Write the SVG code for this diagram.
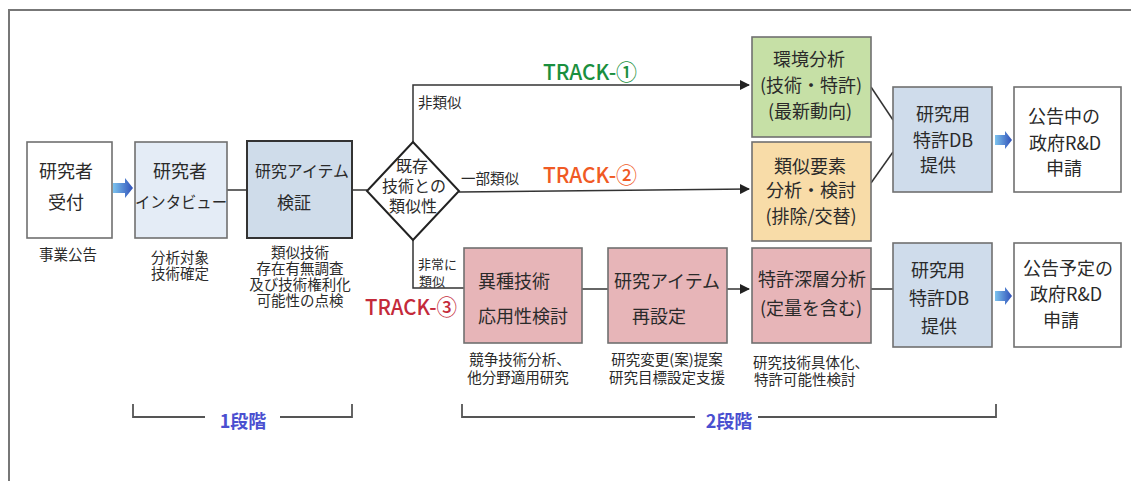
<svg xmlns="http://www.w3.org/2000/svg" width="1131" height="481" viewBox="0 0 1131 481">
<defs>
<style>
text{font-family:"Noto Sans CJK JP","Noto Sans",sans-serif;fill:#2a2a2a;dominant-baseline:central}
.b18{font-size:18px}
.b17{font-size:17px}
.b16{font-size:16px}
.l15{font-size:14.5px}
.l13{font-size:13px}
.c{text-anchor:middle}
.s{text-anchor:start}
.box{stroke:#707070;stroke-width:1.6}
.conn{stroke:#333;stroke-width:1.5;fill:none}
.track{font-size:22px;font-weight:500}
.stage{font-size:18px;font-weight:bold;fill:#4a4fd0}
.brk{stroke:#555;stroke-width:1.8;fill:none}
</style>
<linearGradient id="bg" x1="0" y1="0" x2="1" y2="0">
<stop offset="0" stop-color="#7cc3ee"/>
<stop offset="1" stop-color="#2f4fb8"/>
</linearGradient>
<marker id="ah" markerWidth="10" markerHeight="10" refX="9" refY="5" orient="auto" markerUnits="userSpaceOnUse">
<path d="M0,0 L10,5 L0,10 z" fill="#222"/>
</marker>
</defs>
<rect width="1131" height="481" fill="#fff"/>
<path d="M9,481 V10 H1131" fill="none" stroke="#777" stroke-width="2"/>

<g id="connectors">
<line class="conn" x1="227" y1="190" x2="247" y2="190"/>
<line class="conn" x1="352" y1="190" x2="367" y2="190"/>
<polyline class="conn" points="413,142 413,85 749,85" marker-end="url(#ah)"/>
<line class="conn" x1="459" y1="192" x2="749" y2="189" marker-end="url(#ah)"/>
<polyline class="conn" points="413,240 413,288 464,288"/>
<line class="conn" x1="582" y1="289" x2="608" y2="289"/>
<line class="conn" x1="727" y1="289" x2="749" y2="289" marker-end="url(#ah)"/>
<line class="conn" x1="871" y1="87" x2="893" y2="120"/>
<line class="conn" x1="871" y1="183" x2="893" y2="152"/>
<line class="conn" x1="871" y1="289" x2="893" y2="289"/>
<path d="M113,183 H125 V178 L133,188 L125,198 V193 H113 z" fill="url(#bg)"/>
<path d="M995,135 H1005 V131 L1012,140 L1005,149 V145 H995 z" fill="url(#bg)"/>
<path d="M995,291 H1005 V287 L1012,296 L1005,305 V301 H995 z" fill="url(#bg)"/>
</g>

<g id="n-uketsuke">
<rect class="box" x="27" y="142" width="85" height="96" fill="#fff"/>
<text class="b18 c" x="66" y="170">研究者</text>
<text class="b18 c" x="66" y="201">受付</text>
<text class="l15 c" x="68" y="253">事業公告</text>
</g>

<g id="n-interview">
<rect class="box" x="135" y="142" width="92" height="96" fill="#e4ecf6"/>
<text class="b18 c" x="180" y="170">研究者</text>
<text class="b16 c" x="181" y="201" textLength="92" lengthAdjust="spacingAndGlyphs">インタビュー</text>
<text class="l15 c" x="180" y="256">分析対象</text>
<text class="l15 c" x="180" y="272">技術確定</text>
</g>

<g id="n-kensho">
<rect x="247" y="141" width="105" height="97" fill="#cfdcea" stroke="#333" stroke-width="2"/>
<text class="b16 c" x="302" y="170" textLength="94" lengthAdjust="spacingAndGlyphs">研究アイテム</text>
<text class="b17 c" x="294" y="201">検証</text>
<text class="l15 c" x="300" y="251">類似技術</text>
<text class="l15 c" x="300" y="267">存在有無調査</text>
<text class="l15 c" x="300" y="283">及び技術権利化</text>
<text class="l15 c" x="300" y="299">可能性の点検</text>
</g>

<g id="n-diamond">
<polygon points="367,191 413,142 459,191 413,240" fill="#fff" stroke="#222" stroke-width="2"/>
<text class="b16 c" x="412" y="165">既存</text>
<text class="b16 c" x="414" y="185">技術との</text>
<text class="b16 c" x="413" y="205">類似性</text>
</g>

<g id="labels">
<text class="l15 s" x="418" y="101">非類似</text>
<text class="l15 s" x="461" y="177">一部類似</text>
<text class="l13 s" x="418" y="263">非常に</text>
<text class="l13 s" x="419" y="280">類似</text>
<text class="track c" x="590" y="70" style="fill:#1a8f3e" textLength="94" lengthAdjust="spacingAndGlyphs">TRACK-①</text>
<text class="track c" x="590" y="173" style="fill:#f05a24" textLength="94" lengthAdjust="spacingAndGlyphs">TRACK-②</text>
<text class="track c" x="411" y="305" style="fill:#c42a3a" textLength="92" lengthAdjust="spacingAndGlyphs">TRACK-③</text>
</g>

<g id="n-ishu">
<rect class="box" x="464" y="248" width="118" height="95" fill="#e7b5b8"/>
<text class="b18 s" x="478" y="280">異種技術</text>
<text class="b18 s" x="478" y="315">応用性検討</text>
<text class="l15 c" x="520" y="358">競争技術分析、</text>
<text class="l15 c" x="518" y="376">他分野適用研究</text>
</g>

<g id="n-saisettei">
<rect class="box" x="608" y="248" width="119" height="95" fill="#e7b5b8"/>
<text class="b18 c" x="667" y="280">研究アイテム</text>
<text class="b18 c" x="659" y="315">再設定</text>
<text class="l15 c" x="667" y="358">研究変更(案)提案</text>
<text class="l15 c" x="667" y="376">研究目標設定支援</text>
</g>

<g id="n-kankyo">
<rect class="box" x="752" y="37" width="119" height="100" fill="#c6e0a6"/>
<text class="b18 c" x="809" y="58">環境分析</text>
<text class="b18 c" x="811" y="84">(技術・特許)</text>
<text class="b18 c" x="810" y="110">(最新動向)</text>
</g>

<g id="n-ruiji">
<rect class="box" x="752" y="142" width="119" height="99" fill="#f8dca8"/>
<text class="b18 c" x="810" y="165">類似要素</text>
<text class="b18 c" x="811" y="189">分析・検討</text>
<text class="b18 c" x="811" y="215">(排除/交替)</text>
</g>

<g id="n-shinso">
<rect class="box" x="752" y="248" width="119" height="95" fill="#e7b5b8"/>
<text class="b18 c" x="812" y="278">特許深層分析</text>
<text class="b18 c" x="811" y="307">(定量を含む)</text>
<text class="l15 s" x="753" y="361">研究技術具体化、</text>
<text class="l15 s" x="754" y="378">特許可能性検討</text>
</g>

<g id="n-db1">
<rect class="box" x="893" y="87" width="99" height="105" fill="#cfdceb"/>
<text class="b18 c" x="943" y="113">研究用</text>
<text class="b18 c" x="943" y="139">特許DB</text>
<text class="b18 c" x="938" y="164">提供</text>
</g>

<g id="n-db2">
<rect class="box" x="893" y="243" width="99" height="104" fill="#cfdceb"/>
<text class="b18 c" x="938" y="269">研究用</text>
<text class="b18 c" x="939" y="297">特許DB</text>
<text class="b18 c" x="939" y="325">提供</text>
</g>

<g id="n-kokoku1">
<rect class="box" x="1014" y="87" width="107" height="105" fill="#fff"/>
<text class="b18 c" x="1064" y="115">公告中の</text>
<text class="b18 c" x="1065" y="142">政府R&amp;D</text>
<text class="b18 c" x="1064" y="167">申請</text>
</g>

<g id="n-kokoku2">
<rect class="box" x="1014" y="243" width="107" height="104" fill="#fff"/>
<text class="b18 c" x="1068" y="267">公告予定の</text>
<text class="b18 c" x="1066" y="293">政府R&amp;D</text>
<text class="b18 c" x="1061" y="319">申請</text>
</g>

<g id="stages">
<path class="brk" d="M133,404 V417 H205 M280,417 H352 V404"/>
<text class="stage c" x="243" y="420">1段階</text>
<path class="brk" d="M462,404 V417 H695 M758,417 H996 V404"/>
<text class="stage c" x="729" y="420">2段階</text>
</g>
</svg>
